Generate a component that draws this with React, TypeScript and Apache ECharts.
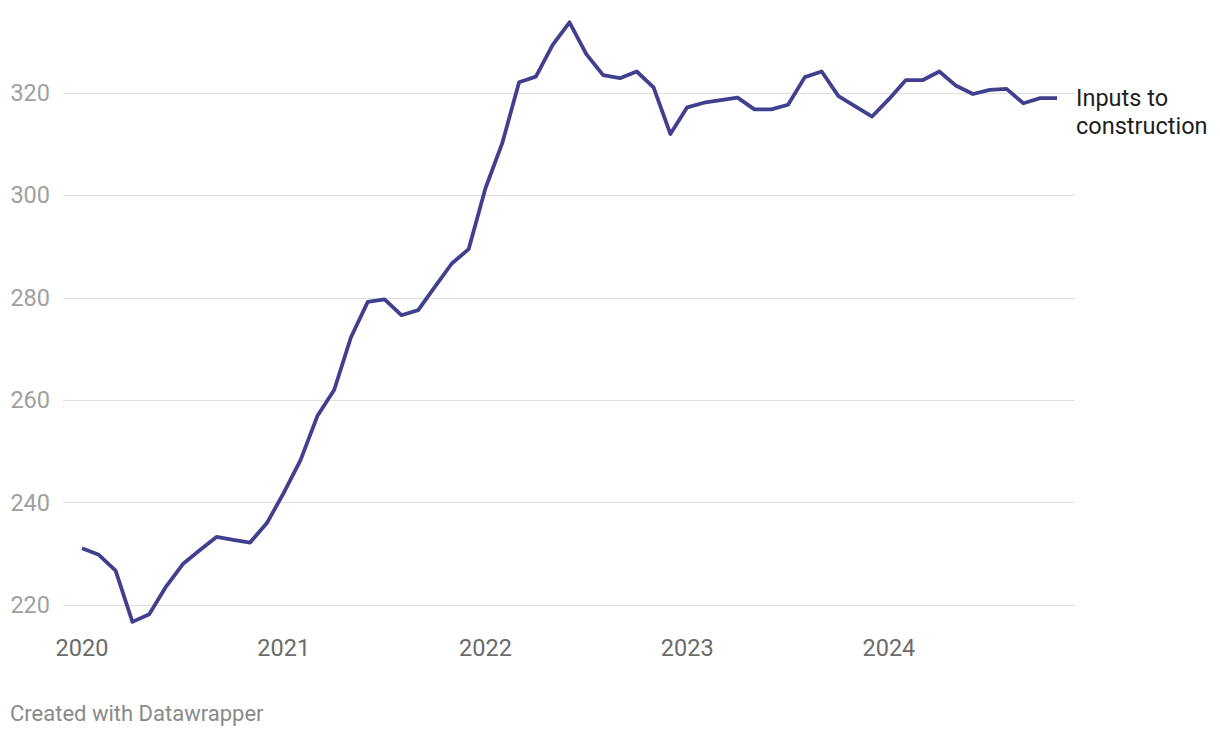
import React, { useEffect, useRef } from "react";
import * as echarts from "echarts";

const startYear = 2020;
const yearTicks = [2020, 2021, 2022, 2023, 2024];
const seriesName = "Inputs to construction";
// Monthly index values, Jan 2020 – Nov 2024
const values = [
  231.1, 229.8, 226.7, 216.7, 218.2, 223.6, 228.0, 230.7, 233.3, 232.7, 232.2, 236.0,
  241.9, 248.3, 256.9, 262.0, 272.3, 279.2, 279.7, 276.6, 277.6, 282.2, 286.7, 289.5,
  301.4, 310.2, 322.1, 323.2, 329.4, 333.8, 327.6, 323.5, 322.9, 324.2, 321.1, 312.0,
  317.2, 318.1, 318.6, 319.1, 316.8, 316.8, 317.7, 323.1, 324.2, 319.4, 317.4, 315.4,
  318.8, 322.5, 322.5, 324.2, 321.4, 319.8, 320.6, 320.8, 318.0, 319.0, 319.0,
];
const yTicks = [220, 240, 260, 280, 300, 320];

export default function App() {
  const ref = useRef<HTMLDivElement>(null);
  useEffect(() => {
    if (!ref.current) return;
    const chart = echarts.init(ref.current, undefined, { renderer: "svg" });
    const data = values.map((v, i) => [i, v]);
    chart.setOption({
      animation: false,
      textStyle: { fontFamily: "Roboto" },
      grid: { left: 63, right: 145, top: 93, bottom: 133, containLabel: false },
      xAxis: {
        type: "value",
        min: -1.13,
        max: 59.07,
        axisLine: { show: false },
        axisTick: { show: false },
        splitLine: { show: false },
        axisLabel: {
          customValues: yearTicks.map((y) => (y - startYear) * 12),
          formatter: (v: number) => String(startYear + Math.round(v / 12)),
          color: "#6b6b6b",
          fontSize: 23.5,
          margin: 31,
          fontFamily: "Roboto",
        },
      },
      yAxis: {
        type: "value",
        min: yTicks[0],
        max: yTicks[yTicks.length - 1],
        interval: 20,
        axisLine: { show: false },
        axisTick: { show: false },
        splitLine: { show: true, lineStyle: { color: "#e0e0e0", width: 1 } },
        axisLabel: {
          color: "#a0a0a0",
          fontSize: 23.5,
          margin: 13,
          fontFamily: "Roboto",
        },
      },
      series: [
        {
          name: seriesName,
          type: "line",
          data,
          clip: false,
          showSymbol: false,
          symbol: "none",
          lineStyle: { color: "#41408e", width: 3.8, join: "round" },
          endLabel: {
            show: true,
            formatter: "Inputs to\nconstruction",
            color: "#1e1e1e",
            fontSize: 23.5,
            lineHeight: 28,
            fontFamily: "Roboto",
            distance: 19,
            verticalAlign: "top",
            offset: [0, -14],
          },
        },
      ],
      graphic: [
        {
          type: "text",
          left: 10,
          top: 702,
          style: {
            text: "Created with Datawrapper",
            fill: "#8a8a8a",
            fontSize: 22,
            fontFamily: "Roboto",
          },
        },
      ],
    });
    return () => chart.dispose();
  }, []);
  return (
    <div
      ref={ref}
      style={{ position: "fixed", left: 0, top: 0, width: 1220, height: 738, background: "#fff" }}
    />
  );
}
